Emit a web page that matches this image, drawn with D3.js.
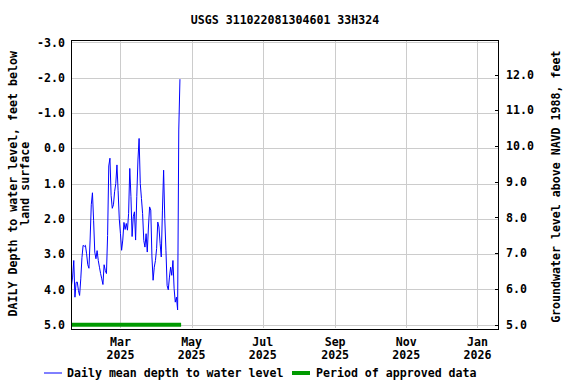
<!DOCTYPE html>
<html>
<head>
<meta charset="utf-8">
<script src="https://cdn.jsdelivr.net/npm/d3@7"></script>
<style>
  body { margin: 0; background: #fff; }
  svg { display: block; }
  text { font-family: "DejaVu Sans Mono", monospace; font-weight: bold; font-size: 11.6px; fill: #000; }
</style>
</head>
<body>
<svg id="chart" width="576" height="384"></svg>
<script>
// ---- data ----
const title = "USGS 311022081304601 33H324";
const seriesStart = "2025-01-18";
const depthValues = [
  3.89, 3.65, 3.18, 4.22, 3.80, 3.79, 4.03, 4.17, 3.70, 3.10,
  2.75, 2.78, 2.75, 2.99, 3.30, 3.40, 2.60, 1.60, 1.26, 2.04,
  2.94, 3.13, 2.90, 3.18, 3.37, 3.55, 3.70, 3.86, 3.30, 3.46,
  3.55, 2.47, 0.50, 0.28, 1.33, 1.70, 1.60, 1.23, 1.00, 0.47,
  1.20, 2.00, 2.42, 2.89, 2.60, 2.10, 2.30, 2.13, 2.32, 1.85,
  0.57, 1.37, 2.50, 1.94, 1.80, 2.60, 1.37, 0.33, -0.28, 1.00,
  1.42, 1.85, 2.61, 2.80, 2.42, 2.94, 2.23, 1.66, 1.75, 3.08,
  3.74, 3.37, 3.18, 2.84, 2.09, 2.23, 2.70, 3.08, 1.75, 0.62,
  1.99, 2.89, 3.89, 4.01, 3.65, 3.37, 3.60, 3.18, 3.98, 4.36,
  4.22, 4.58, -0.52, -1.96
];
const approvedPeriod = ["2025-01-17", "2025-04-22"];
const approvedLevel = 5.0;
const leftTicks = [-3, -2, -1, 0, 1, 2, 3, 4, 5];
const rightTicks = [5, 6, 7, 8, 9, 10, 11, 12];
const xDomain = ["2025-01-17T15:00:00Z", "2026-01-19T11:00:00Z"];
const leftTitle = ["DAILY Depth to water level, feet below", "land surface"];
const rightTitle = "Groundwater level above NAVD 1988, feet";
const legendItems = ["Daily mean depth to water level", "Period of approved data"];

// ---- layout ----
const svg = d3.select("#chart");
const m = { left: 71, right: 499, top: 39.5, bottom: 328 };
const parse = d3.utcParse("%Y-%m-%d");
const t0 = parse(seriesStart);
const series = depthValues.map((v, i) => ({ date: d3.utcDay.offset(t0, i), value: v }));

const x = d3.scaleUtc().domain(xDomain.map(s => new Date(s))).range([m.left, m.right]);
const y = d3.scaleLinear().domain([-3.085, 5.093]).range([m.top, m.bottom]);
const y2 = d3.scaleLinear().domain([4.908, 12.98]).range([m.bottom, m.top]);

svg.append("defs").append("clipPath").attr("id", "clip")
  .append("rect").attr("x", m.left).attr("y", m.top)
  .attr("width", m.right - m.left).attr("height", m.bottom - m.top);

// gridlines
const grid = svg.append("g").attr("stroke", "#cccccc").attr("stroke-width", 1).attr("shape-rendering", "crispEdges");
grid.selectAll("line.h").data(leftTicks).join("line")
  .attr("x1", m.left).attr("x2", m.right)
  .attr("y1", d => Math.round(y(d)) + 0.5).attr("y2", d => Math.round(y(d)) + 0.5);
const xTicks = d3.utcMonth.every(2).range(x.domain()[0], x.domain()[1]);
grid.selectAll("line.v").data(xTicks).join("line")
  .attr("y1", m.top).attr("y2", m.bottom)
  .attr("x1", d => Math.round(x(d)) + 0.5).attr("x2", d => Math.round(x(d)) + 0.5);

// approved period bar
svg.append("line").attr("clip-path", "url(#clip)")
  .attr("x1", x(parse(approvedPeriod[0]))).attr("x2", x(parse(approvedPeriod[1])))
  .attr("y1", y(approvedLevel)).attr("y2", y(approvedLevel))
  .attr("stroke", "#009a00").attr("stroke-width", 4);

// data line
svg.append("path").datum(series).attr("clip-path", "url(#clip)")
  .attr("fill", "none").attr("stroke", "#0000ff").attr("stroke-width", 1)
  .attr("d", d3.line().x(d => x(d.date)).y(d => y(d.value)));

// frame
svg.append("rect").attr("x", m.left + 0.5).attr("y", Math.round(m.top) + 0.5)
  .attr("width", m.right - m.left - 1).attr("height", Math.round(m.bottom - m.top))
  .attr("fill", "none").attr("stroke", "#000").attr("stroke-width", 1).attr("shape-rendering", "crispEdges");

// left axis labels
const fmt = d3.format(".1f");
svg.append("g").selectAll("text").data(leftTicks).join("text")
  .attr("x", 65).attr("y", d => y(d)).attr("dy", "0.35em").attr("text-anchor", "end")
  .text(d => fmt(d).replace("−", "-"));

// right axis with inward ticks
const rAxis = svg.append("g").attr("transform", `translate(${m.right - 0.5},0)`)
  .call(d3.axisRight(y2).tickValues(rightTicks).tickSize(-4).tickFormat(""));
rAxis.select(".domain").remove();
rAxis.selectAll("line").attr("stroke", "#000").attr("shape-rendering", "crispEdges");
svg.append("g").selectAll("text").data(rightTicks).join("text")
  .attr("x", 506).attr("y", d => y2(d)).attr("dy", "0.35em").attr("text-anchor", "start")
  .text(d => fmt(d));

// x labels
const xl = svg.append("g").selectAll("g").data(xTicks).join("g")
  .attr("transform", d => `translate(${x(d)},0)`);
xl.append("text").attr("y", 346).attr("text-anchor", "middle").text(d => d3.utcFormat("%b")(d));
xl.append("text").attr("y", 359).attr("text-anchor", "middle").text(d => d3.utcFormat("%Y")(d));

// title
svg.append("text").attr("x", (m.left + m.right) / 2).attr("y", 24).attr("text-anchor", "middle").text(title);

// axis titles
const cy = (m.top + m.bottom) / 2;
svg.append("text").attr("transform", `translate(17,${cy}) rotate(-90)`).attr("text-anchor", "middle").text(leftTitle[0]);
svg.append("text").attr("transform", `translate(29,${cy}) rotate(-90)`).attr("text-anchor", "middle").text(leftTitle[1]);
svg.append("text").attr("transform", `translate(560,${cy + 3}) rotate(-90)`).attr("text-anchor", "middle").text(rightTitle);

// legend
const ly = 373;
svg.append("line").attr("x1", 44).attr("x2", 62).attr("y1", ly).attr("y2", ly).attr("stroke", "#0000ff").attr("stroke-width", 1);
svg.append("text").attr("x", 67).attr("y", ly).attr("dy", "0.35em").text(legendItems[0]);
svg.append("line").attr("x1", 292).attr("x2", 310).attr("y1", ly).attr("y2", ly).attr("stroke", "#009a00").attr("stroke-width", 4);
svg.append("text").attr("x", 316).attr("y", ly).attr("dy", "0.35em").text(legendItems[1]);
</script>
</body>
</html>
